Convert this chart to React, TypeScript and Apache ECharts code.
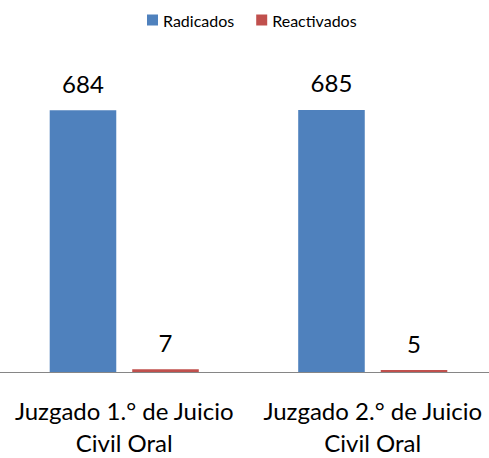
import React, { useEffect, useRef } from "react";
import * as echarts from "echarts";

const categories = ["Juzgado 1.° de Juicio\nCivil Oral", "Juzgado 2.° de Juicio\nCivil Oral"];
const radicados = [684, 685];
const reactivados = [7, 5];
const seriesNames = ["Radicados", "Reactivados"];

const FONT = "Lato, 'Open Sans', sans-serif";

export default function App() {
  const ref = useRef<HTMLDivElement>(null);
  useEffect(() => {
    if (!ref.current) return;
    const chart = echarts.init(ref.current, undefined, { renderer: "svg" });
    const label = {
      show: true,
      position: "top" as const,
      distance: 15,
      fontSize: 24,
      fontFamily: FONT,
      color: "#000",
    };
    chart.setOption({
      animation: false,
      textStyle: { fontFamily: FONT },
      legend: {
        top: 7,
        left: 142,
        itemWidth: 11,
        itemHeight: 11,
        itemGap: 22,
        icon: "rect",
        textStyle: { fontSize: 16, color: "#000", fontFamily: FONT },
        data: seriesNames,
      },
      grid: { left: 0, right: 0, top: 66, bottom: 83, containLabel: false },
      xAxis: {
        type: "category",
        data: categories,
        axisLine: { show: true, lineStyle: { color: "#868686", width: 1 } },
        axisTick: { show: false },
        axisLabel: {
          fontSize: 24,
          lineHeight: 32,
          margin: 22,
          color: "#000",
          fontFamily: FONT,
          interval: 0,
        },
      },
      yAxis: {
        type: "value",
        min: 0,
        max: 800,
        show: false,
        splitLine: { show: false },
      },
      series: [
        {
          name: seriesNames[0],
          type: "bar",
          data: radicados,
          itemStyle: { color: "#4F81BD" },
          barGap: "24%",
          barCategoryGap: "40%",
          label,
        },
        {
          name: seriesNames[1],
          type: "bar",
          data: reactivados,
          itemStyle: { color: "#C0504D" },
          label,
        },
      ],
    });
    return () => chart.dispose();
  }, []);
  return (
    <div
      style={{
        position: "fixed",
        left: 0,
        top: 0,
        width: 489,
        height: 458,
        overflow: "hidden",
        background: "#fff",
      }}
    >
      <div ref={ref} style={{ width: 497, height: 458 }} />
    </div>
  );
}
